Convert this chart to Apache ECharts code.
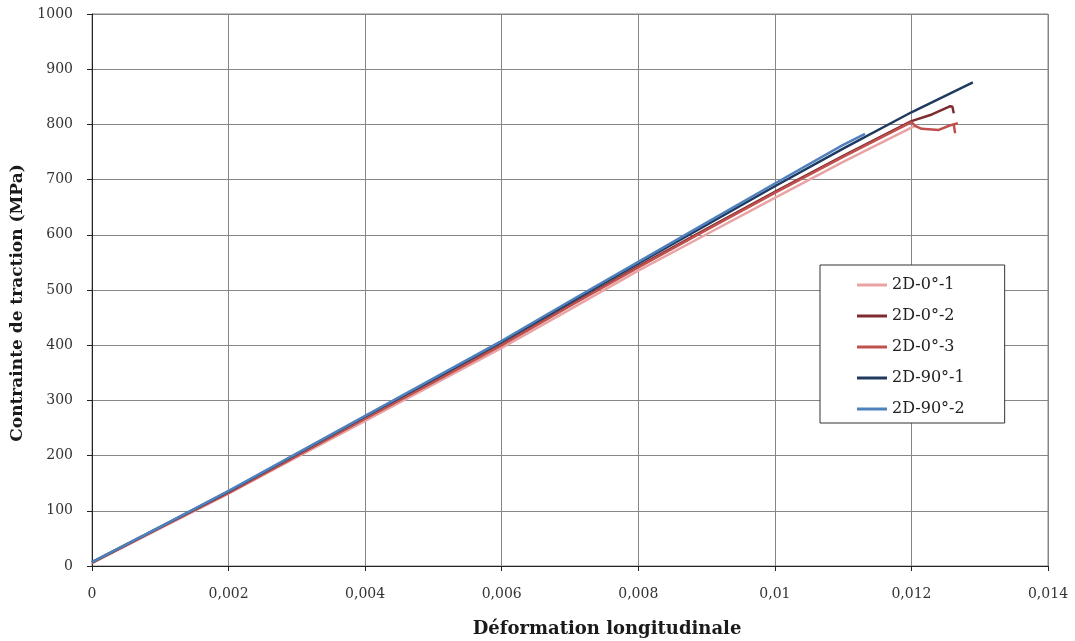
<!DOCTYPE html>
<html>
<head>
<meta charset="utf-8">
<script src="https://cdn.jsdelivr.net/npm/echarts@6/dist/echarts.min.js"></script>
<style>
html,body{margin:0;padding:0;background:#fff;}
#chart{width:1075px;height:641px;}
</style>
</head>
<body>
<div id="chart"></div>
<script>
// Series names
const seriesNames = ['2D-0°-1', '2D-0°-2', '2D-0°-3', '2D-90°-1', '2D-90°-2'];

// [strain, stress MPa]
const s0_1 = [[0,5],[0.001,68],[0.002,131],[0.003,197],[0.004,263],[0.005,329],[0.006,395],[0.007,465],[0.008,535],[0.009,601],[0.010,667],[0.011,732],[0.012,794],[0.01208,799]];
const s0_2 = [[0,6],[0.001,70],[0.002,133],[0.003,200],[0.004,268],[0.005,334],[0.006,401],[0.007,472],[0.008,543],[0.009,611],[0.010,678],[0.011,743],[0.012,806],[0.0123,818],[0.01257,833],[0.01260,832],[0.01262,820]];
const s0_3 = [[0,6],[0.001,70],[0.002,133],[0.003,200],[0.004,267],[0.005,333],[0.006,400],[0.007,471],[0.008,541],[0.009,609],[0.010,676],[0.011,741],[0.012,804],[0.01206,797],[0.01215,792],[0.0124,790],[0.01256,798],[0.01268,802],[0.01262,800],[0.01264,784]];
const s90_1 = [[0,7],[0.001,71],[0.002,135],[0.003,203],[0.004,271],[0.005,338],[0.006,406],[0.007,477],[0.008,548],[0.009,618],[0.010,688],[0.011,756],[0.012,822],[0.0129,876]];
const s90_2 = [[0,7],[0.001,71],[0.002,136],[0.003,204],[0.004,272],[0.005,340],[0.006,408],[0.007,480],[0.008,551],[0.009,622],[0.010,693],[0.011,763],[0.01132,783]];

const seriesData = [s0_1, s0_2, s0_3, s90_1, s90_2];
const seriesColors = ['#E9A3A3', '#7E2B2E', '#C0504D', '#1F3A5F', '#4F81BD'];

const fmt = v => parseFloat(v.toFixed(4)).toString().replace('.', ',');

const chart = echarts.init(document.getElementById('chart'));
const serif = '"DejaVu Serif", "Liberation Serif", serif';
chart.setOption({
  animation: false,
  backgroundColor: '#fff',
  grid: {left: 92, right: 27, top: 14, bottom: 75, show: true, borderColor: '#868686', borderWidth: 1,
         containLabel: false, outerBoundsMode: 'none'},
  xAxis: {
    type: 'value', min: 0, max: 0.014, interval: 0.002,
    name: 'Déformation longitudinale', nameLocation: 'middle', nameGap: 54,
    nameTextStyle: {fontFamily: serif, fontWeight: 'bold', fontSize: 18, color: '#1a1a1a', padding: [0, 0, 0, 74]},
    axisLine: {show: true, lineStyle: {color: '#222', width: 1}},
    axisTick: {show: true, length: 5, lineStyle: {color: '#222'}},
    axisLabel: {formatter: fmt, fontFamily: serif, fontSize: 14, color: '#333', margin: 21},
    splitLine: {show: true, lineStyle: {color: '#868686', width: 1}}
  },
  yAxis: {
    type: 'value', min: 0, max: 1000, interval: 100,
    name: 'Contrainte de traction (MPa)', nameLocation: 'middle', nameGap: 64,
    nameTextStyle: {fontFamily: serif, fontWeight: 'bold', fontSize: 17, color: '#1a1a1a', padding: [0, 26, 0, 0]},
    axisLine: {show: true, lineStyle: {color: '#222', width: 1}},
    axisTick: {show: true, length: 5, lineStyle: {color: '#222'}},
    axisLabel: {formatter: v => String(v), fontFamily: serif, fontSize: 14, color: '#333', margin: 19},
    splitLine: {show: true, lineStyle: {color: '#868686', width: 1}}
  },
  legend: {
    orient: 'vertical', left: 820, top: 265,
    backgroundColor: '#fff', borderColor: '#333', borderWidth: 1,
    padding: [11, 40, 5, 37], itemGap: 13, itemWidth: 30, itemHeight: 3,
    icon: 'rect',
    textStyle: {fontFamily: serif, fontSize: 16, color: '#222', lineHeight: 18},
    data: seriesNames
  },
  series: seriesNames.map((n, i) => ({
    name: n, type: 'line', data: seriesData[i], showSymbol: false,
    lineStyle: {color: seriesColors[i], width: 2.5}, itemStyle: {color: seriesColors[i]},
    z: 2 + i
  }))
});
</script>
</body>
</html>
